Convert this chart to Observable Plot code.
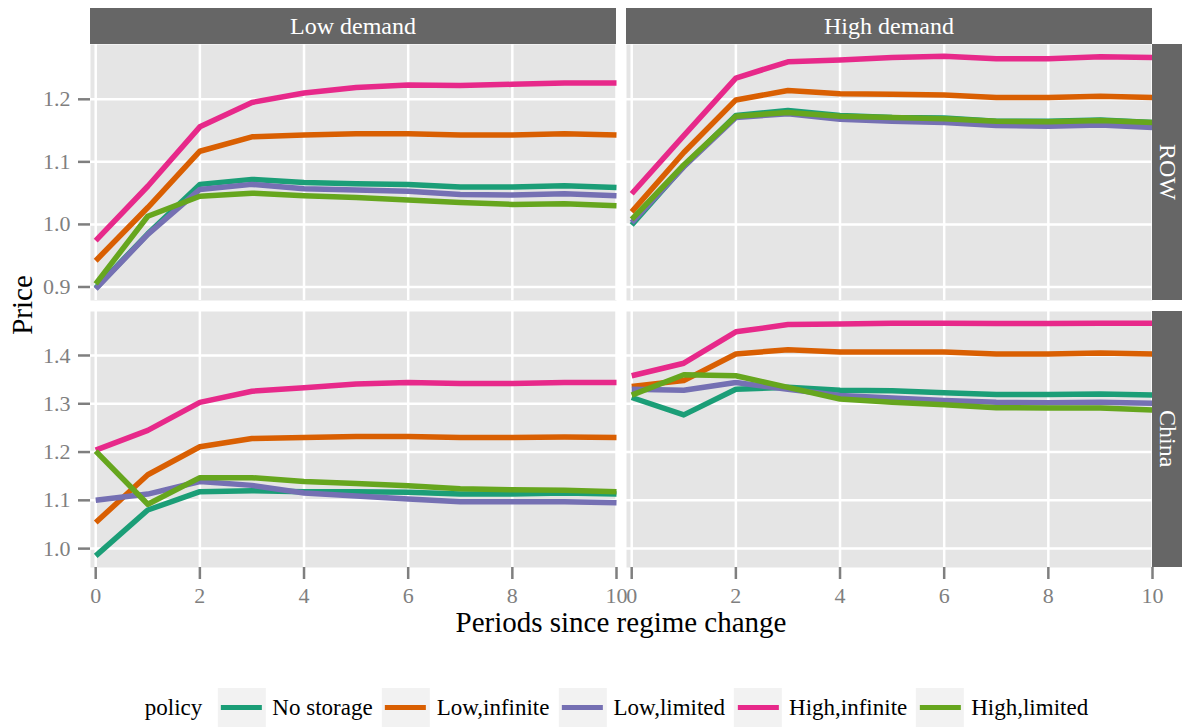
<!DOCTYPE html>
<html>
<head>
<meta charset="utf-8">
<script src="https://cdn.jsdelivr.net/npm/d3@7"></script>
<script src="https://cdn.jsdelivr.net/npm/@observablehq/plot@0.6"></script>
<style>
  body { margin: 0; background: #fff; }
  #chart { position: relative; width: 1182px; height: 727px; overflow: hidden;
           font-family: "Liberation Serif", "DejaVu Serif", serif; background: #fff; }
  #chart svg, #chart svg text { font-family: "Liberation Serif", "DejaVu Serif", serif; }
  .row { position: absolute; left: 0; }
  .strip { position: absolute; background: #666666; color: #fff; font-size: 24px;
           display: flex; align-items: center; justify-content: center; }
  .strip.side span { writing-mode: vertical-rl; }
  .title { position: absolute; color: #000; font-size: 29px; line-height: 29px; white-space: nowrap; }
  #legend { position: absolute; top: 688px; left: 621px; transform: translateX(-50%);
            display: flex; align-items: center; font-size: 23px; white-space: nowrap; }
  #legend .head { margin-right: 15px; }
  #legend .key { width: 48px; height: 39px; background: #f2f2f2; display: flex;
                 align-items: center; justify-content: center; }
  #legend .key i { display: block; width: 41px; height: 5px; }
  #legend .lab { margin: 0 9px 0 7px; }
</style>
</head>
<body>
<div id="chart"></div>
<script>
// Periods since the regime change (x axis)
const periods = [0, 1, 2, 3, 4, 5, 6, 7, 8, 9, 10];
const xTicks = [0, 2, 4, 6, 8, 10];

const demands = ["Low demand", "High demand"];
const regions = ["ROW", "China"];
const policies = ["No storage", "Low,infinite", "Low,limited", "High,infinite", "High,limited"];
const policyColors = ["#1B9E77", "#D95F02", "#7570B3", "#E7298A", "#66A61E"];

const rowTicks = [0.9, 1.0, 1.1, 1.2];
const chinaTicks = [1.0, 1.1, 1.2, 1.3, 1.4];

// Prices, one array per policy (same order as `policies`), one block per panel
const rowLow = [
  [0.898, 0.985, 1.064, 1.072, 1.067, 1.065, 1.064, 1.060, 1.060, 1.062, 1.059],
  [0.942, 1.027, 1.117, 1.140, 1.143, 1.145, 1.145, 1.143, 1.143, 1.145, 1.143],
  [0.897, 0.984, 1.056, 1.064, 1.057, 1.055, 1.053, 1.048, 1.047, 1.049, 1.046],
  [0.974, 1.061, 1.156, 1.195, 1.210, 1.219, 1.223, 1.222, 1.224, 1.226, 1.226],
  [0.905, 1.013, 1.045, 1.050, 1.046, 1.043, 1.039, 1.035, 1.032, 1.033, 1.030]
];
const rowHigh = [
  [0.999, 1.093, 1.174, 1.182, 1.174, 1.171, 1.170, 1.165, 1.165, 1.167, 1.163],
  [1.020, 1.115, 1.199, 1.214, 1.209, 1.208, 1.207, 1.203, 1.203, 1.205, 1.203],
  [1.003, 1.092, 1.171, 1.177, 1.168, 1.165, 1.163, 1.158, 1.157, 1.159, 1.155],
  [1.049, 1.142, 1.234, 1.260, 1.263, 1.267, 1.269, 1.265, 1.265, 1.268, 1.267],
  [1.008, 1.095, 1.173, 1.179, 1.173, 1.171, 1.169, 1.165, 1.164, 1.166, 1.163]
];
const chinaLow = [
  [0.985, 1.080, 1.118, 1.120, 1.118, 1.118, 1.117, 1.113, 1.113, 1.115, 1.113],
  [1.054, 1.153, 1.211, 1.228, 1.230, 1.232, 1.232, 1.230, 1.230, 1.231, 1.230],
  [1.100, 1.113, 1.139, 1.131, 1.115, 1.109, 1.103, 1.097, 1.097, 1.097, 1.095],
  [1.204, 1.245, 1.303, 1.326, 1.333, 1.341, 1.344, 1.342, 1.342, 1.344, 1.344],
  [1.202, 1.092, 1.147, 1.147, 1.139, 1.135, 1.130, 1.124, 1.122, 1.121, 1.118]
];
const chinaHigh = [
  [1.313, 1.277, 1.330, 1.334, 1.328, 1.327, 1.323, 1.319, 1.319, 1.320, 1.318],
  [1.336, 1.348, 1.403, 1.412, 1.407, 1.407, 1.407, 1.403, 1.403, 1.405, 1.403],
  [1.330, 1.328, 1.344, 1.330, 1.317, 1.312, 1.307, 1.303, 1.302, 1.303, 1.301],
  [1.358, 1.384, 1.449, 1.464, 1.465, 1.467, 1.467, 1.466, 1.466, 1.467, 1.467],
  [1.318, 1.360, 1.358, 1.334, 1.310, 1.303, 1.298, 1.292, 1.291, 1.291, 1.287]
];

// Long-format table built from the arrays above
const panels = [
  {region: "ROW", demand: "Low demand", values: rowLow},
  {region: "ROW", demand: "High demand", values: rowHigh},
  {region: "China", demand: "Low demand", values: chinaLow},
  {region: "China", demand: "High demand", values: chinaHigh}
];
const table = panels.flatMap(p =>
  p.values.flatMap((series, i) =>
    series.map((price, j) => ({region: p.region, demand: p.demand, policy: policies[i], period: periods[j], price}))
  )
);

// Layout of the panel grid
const PANEL_W = 526, PANEL_H = 256, GAP = 10;
const LEFT = 90, RIGHT_STRIP = 30, TOTAL_W = 1182;
const ROW_TOP = [44, 311];
const AXIS_COLOR = "#7f7f7f";
const FONT = "Liberation Serif, DejaVu Serif, serif";

function rowPlot(region, yTicks, showX) {
  const data = table.filter(d => d.region === region);
  const [lo, hi] = d3.extent(data, d => d.price);
  const pad = (hi - lo) * 0.05;
  const marginBottom = showX ? 50 : 0;
  return Plot.plot({
    width: TOTAL_W,
    height: PANEL_H + marginBottom,
    marginLeft: LEFT,
    marginRight: RIGHT_STRIP,
    marginTop: 0,
    marginBottom,
    style: {background: "transparent", fontFamily: FONT, fontSize: "22px", overflow: "visible"},
    facet: {data, x: "demand"},
    fx: {domain: demands, paddingInner: GAP / (PANEL_W + GAP), paddingOuter: 0, round: false, axis: null, label: null},
    x: {domain: [-0.1, 10], axis: null},
    y: {domain: [lo - pad, hi + pad], axis: null},
    color: {domain: policies, range: policyColors},
    marks: [
      Plot.frame({fill: "#e5e5e5", stroke: null}),
      Plot.gridY(yTicks, {stroke: "#fff", strokeOpacity: 1, strokeWidth: 2.5}),
      Plot.gridX(xTicks, {stroke: "#fff", strokeOpacity: 1, strokeWidth: 2.5}),
      Plot.line(data, {x: "period", y: "price", z: "policy", stroke: "policy",
                       strokeWidth: 5.5, strokeLinejoin: "round", strokeLinecap: "butt"}),
      Plot.axisY(yTicks, {tickSize: 12, tickPadding: 8, color: AXIS_COLOR, strokeWidth: 2.5,
                          tickFormat: d3.format(".1f"), label: null, fontSize: 22, fontFamily: FONT}),
      showX ? Plot.axisX(xTicks, {tickSize: 12, tickPadding: 8, color: AXIS_COLOR, strokeWidth: 2.5,
                                  label: null, fontSize: 22, fontFamily: FONT}) : null
    ]
  });
}

const chart = document.getElementById("chart");

[["ROW", rowTicks, false], ["China", chinaTicks, true]].forEach(([region, ticks, showX], r) => {
  const wrap = document.createElement("div");
  wrap.className = "row";
  wrap.style.top = ROW_TOP[r] + "px";
  wrap.appendChild(rowPlot(region, ticks, showX));
  chart.appendChild(wrap);
});

// Facet strips: demand across the top, region down the right side
demands.forEach((name, c) => {
  const s = document.createElement("div");
  s.className = "strip";
  s.style.left = (LEFT + c * (PANEL_W + GAP)) + "px";
  s.style.top = "8px";
  s.style.width = PANEL_W + "px";
  s.style.height = "36px";
  s.textContent = name;
  chart.appendChild(s);
});
regions.forEach((name, r) => {
  const s = document.createElement("div");
  s.className = "strip side";
  s.style.left = (TOTAL_W - RIGHT_STRIP) + "px";
  s.style.top = ROW_TOP[r] + "px";
  s.style.width = RIGHT_STRIP + "px";
  s.style.height = PANEL_H + "px";
  const t = document.createElement("span");
  t.textContent = name;
  s.appendChild(t);
  chart.appendChild(s);
});

// Axis titles
const xTitle = document.createElement("div");
xTitle.className = "title";
xTitle.textContent = "Periods since regime change";
xTitle.style.left = (LEFT + (2 * PANEL_W + GAP) / 2) + "px";
xTitle.style.top = "608px";
xTitle.style.transform = "translateX(-50%)";
chart.appendChild(xTitle);

const yTitle = document.createElement("div");
yTitle.className = "title";
yTitle.textContent = "Price";
yTitle.style.left = "22px";
yTitle.style.top = "305px";
yTitle.style.transform = "translate(-50%, -50%) rotate(-90deg)";
chart.appendChild(yTitle);

// Legend
const legend = document.createElement("div");
legend.id = "legend";
const head = document.createElement("span");
head.className = "head";
head.textContent = "policy";
legend.appendChild(head);
policies.forEach((p, i) => {
  const key = document.createElement("span");
  key.className = "key";
  const ln = document.createElement("i");
  ln.style.background = policyColors[i];
  key.appendChild(ln);
  const lab = document.createElement("span");
  lab.className = "lab";
  lab.textContent = p;
  legend.appendChild(key);
  legend.appendChild(lab);
});
chart.appendChild(legend);
</script>
</body>
</html>
